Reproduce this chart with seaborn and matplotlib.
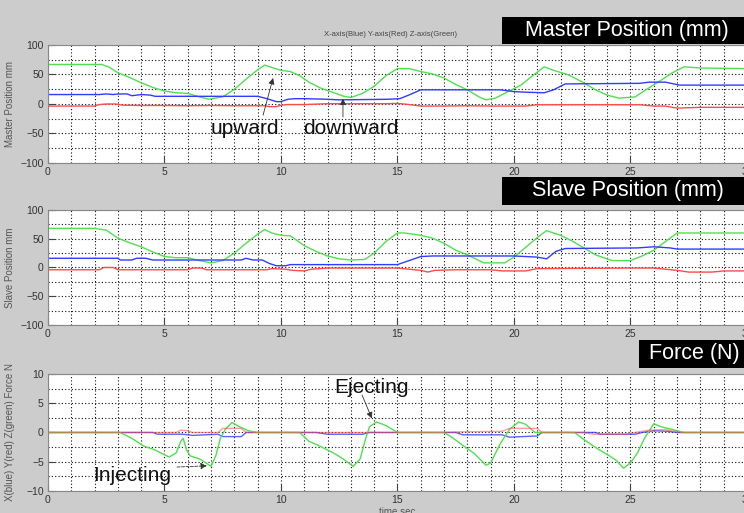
"""
Master / slave position and force traces, teleoperated injection run.
"""
import matplotlib
matplotlib.use("Agg")
import matplotlib.pyplot as plt
from matplotlib.patches import Rectangle
from matplotlib.ticker import MultipleLocator
import pandas as pd
import seaborn as sns

# --- Master position (mm), breakpoints ---
master_x_t = [0, 2.2, 2.5, 2.8, 3.0, 3.4, 3.6, 4.0, 4.4, 4.6, 9.0, 9.4, 9.8, 10.0, 10.3, 10.6, 11.0,
              12.0, 12.5, 14.6, 15.1, 15.6, 16.0, 19.4, 20.0, 20.5, 21.3, 21.7, 22.2, 25.4, 25.8, 26.5,
              27.1, 30]
master_x = [16, 16, 17, 16, 17, 17, 14, 16, 15, 13, 13, 9, 4, 4, 8, 9, 9,
            8, 7, 8, 9, 17, 24, 24, 21, 20, 19, 24, 34, 35, 37, 37,
            32, 32]
master_y_t = [0, 2.0, 2.2, 2.5, 2.9, 3.2, 4.0, 5.0, 6.0, 7.0, 8.0, 9.3, 9.5, 9.8, 10.0, 10.3,
              11.0, 12.0, 13.0, 14.5, 15.0, 15.4, 16.0, 17.0, 18.0, 19.0, 20.0, 20.5, 21.0, 25.4,
              26.0, 26.5, 27.0, 28.0, 30]
master_y = [-3.5, -3.5, -1, 0, 0, -2, -2.5, -2.5, -3, -2.5, -3, -3, -4.5, -4.5, -2, -1,
            -1, 0.5, 0.5, 0.5, 1, -0.5, -3.5, -3.5, -3, -3.5, -3.5, -3.5, -1.3, -1.3,
            -3.5, -3.5, -7, -5.7, -5.7]
master_z_t = [0, 2.3, 2.6, 3.0, 3.5, 4.0, 4.5, 5.0, 5.5, 6.0, 6.5, 6.9, 7.5, 8.0, 8.5, 9.0, 9.3,
              9.6, 10.0, 10.4, 10.8, 11.2, 11.7, 12.2, 12.7, 13.0, 13.5, 14.0, 14.5, 15.0, 15.5,
              16.0, 16.5, 17.0, 17.5, 18.0, 18.5, 18.8, 19.2, 19.7, 20.3, 20.8, 21.3, 21.7, 22.3,
              22.9, 23.5, 24.0, 24.5, 25.2, 25.7, 26.3, 26.8, 27.3, 28.0, 30]
master_z = [67, 67, 63, 53, 45, 36, 28, 22, 19, 18, 12, 8, 12, 25, 42, 58, 66,
            62, 57, 55, 48, 37, 27, 20, 13, 11, 18, 30, 48, 60, 60,
            55, 51, 44, 33, 24, 12, 7, 10, 20, 32, 48, 63, 57, 50,
            38, 24, 15, 10, 12, 25, 40, 53, 63, 61, 60]

# --- Slave position (mm) ---
slave_x_t = [0, 3.0, 3.1, 3.6, 3.8, 4.2, 4.5, 8.3, 8.5, 8.8, 9.2, 9.5, 9.8, 10.2, 10.4, 15.0, 15.5,
             16.0, 16.5, 20.0, 21.0, 21.4, 21.8, 22.2, 25.3, 26.0, 26.7, 27.0, 30]
slave_x = [16, 16, 13, 13, 16, 16, 13, 13, 16, 13, 13, 7, 3, 3, 5, 5, 12,
           19, 20, 20, 18, 15, 28, 33, 34, 36, 34, 32, 32]
slave_y_t = [0, 2.2, 2.4, 2.8, 3.0, 6.0, 6.2, 6.6, 6.8, 9.4, 9.6, 10.2, 10.5, 11.0, 11.3, 12.0,
             15.0, 15.5, 16.0, 16.3, 16.6, 17.5, 19.0, 19.5, 20.5, 21.0, 25.0, 26.0, 26.5, 27.0,
             27.5, 28.5, 29.0, 30]
slave_y = [-4, -4, 0, 0, -4, -4, -1, -1, -4, -4, -2, -3, -5, -6, -3, -1,
           -1, -3, -5, -8, -5, -4, -4, -6, -6, -2, -1, -1, -3, -5,
           -8, -8, -6, -6]
slave_z_t = [0, 2.0, 2.5, 3.0, 3.5, 4.0, 4.5, 5.0, 5.5, 6.0, 6.5, 7.0, 7.5, 8.0, 8.5, 9.0, 9.3,
             9.6, 10.0, 10.4, 11.0, 11.5, 12.0, 12.5, 13.0, 13.6, 14.0, 14.5, 15.0, 15.3, 16.0,
             16.5, 17.0, 17.5, 18.0, 18.5, 18.7, 19.6, 20.0, 20.5, 21.0, 21.4, 22.0, 22.5, 23.0,
             23.5, 24.2, 25.0, 25.5, 26.0, 26.5, 27.0, 30]
slave_z = [68, 68, 65, 51, 43, 36, 27, 19, 17, 17, 12, 8, 12, 25, 42, 58, 66,
           60, 56, 55, 38, 28, 20, 15, 13, 14, 25, 45, 60, 60, 56,
           51, 42, 30, 22, 12, 8, 8, 18, 35, 52, 64, 56, 46, 34,
           22, 12, 12, 20, 30, 45, 60, 60]

# --- Force (N) ---
force_x_t = [0, 4.5, 4.7, 5.8, 6.2, 7.3, 7.5, 8.3, 8.5, 11.5, 12.0, 13.5, 13.8, 17.5, 17.8, 19.5,
             19.8, 21.0, 21.2, 23.5, 23.7, 25.2, 25.5, 26.0, 26.6, 27.0, 30]
force_x = [0, 0, -0.3, -0.3, -0.5, -0.3, -0.7, -0.7, 0, 0, -0.3, -0.3, 0, 0, -0.4, -0.4,
           -0.8, -0.6, 0, 0, -0.3, -0.3, 0, 0.3, 0.2, 0, 0]
force_y_t = [0, 5.5, 5.7, 6.0, 6.2, 7.3, 7.5, 8.3, 8.5, 17.0, 17.5, 19.5, 19.8, 21.0, 21.2, 23.0,
             23.4, 24.8, 25.2, 25.8, 26.5, 27.0, 27.2, 30]
force_y = [0, 0, 0.4, 0.3, 0, 0, 0.7, 0.7, 0, 0, 0.1, 0.2, 0.7, 0.7, 0, 0,
           -0.3, -0.3, 0, 0.4, 0.5, 0.1, 0, 0]
force_z_t = [0, 3.1, 3.6, 4.1, 4.6, 5.2, 5.5, 5.7, 5.8, 5.95, 6.1, 6.5, 6.7, 7.0, 7.2, 7.4, 7.6,
             7.9, 8.2, 8.6, 9.0, 10.8, 11.2, 11.6, 12.0, 12.3, 12.7, 13.1, 13.4, 13.6, 13.8, 14.1,
             14.5, 15.0, 17.0, 17.4, 17.8, 18.3, 18.8, 19.0, 19.4, 19.8, 20.2, 20.5, 20.9, 22.6,
             23.0, 23.4, 23.8, 24.1, 24.4, 24.7, 25.0, 25.3, 25.6, 26.0, 26.3, 26.8, 27.3, 30]
force_z = [0, 0, -1, -2.3, -3, -4.2, -3.5, -1.5, -1, -3, -4, -4.5, -5, -5.8, -4, -1, 0.5,
           1.7, 1, 0.3, 0, 0, -1.5, -2.2, -3, -3.6, -4.6, -5.8, -4.5, -1.5, 1, 1.8,
           1.2, 0, 0, -1, -2.2, -3.6, -5.6, -5.2, -2, 0.5, 1.8, 1.4, 0, 0,
           -1.2, -2.3, -3.3, -4, -4.8, -6.1, -5.2, -3.5, -1, 1.5, 1, 0.5, 0, 0]

BLUE, RED, GREEN = "#2f3cff", "#ff4a4a", "#4fe04f"
BG = "#cccccc"

sns.set_theme(style="white")
plt.rcParams["font.family"] = ["Liberation Sans", "DejaVu Sans"]


def draw_traces(ax, traces):
    # each trace: (times, values, colour, alpha)
    for t, v, color, alpha in traces:
        df = pd.DataFrame({"t": t, "v": v})
        sns.lineplot(data=df, x="t", y="v", ax=ax, color=color, alpha=alpha,
                     linewidth=1.0, estimator=None, sort=False)


def style_axis(ax, ylim, ymajor, yminor, ylabel):
    ax.set_xlim(0, 30)
    ax.set_ylim(*ylim)
    ax.set_facecolor("white")
    ax.xaxis.set_major_locator(MultipleLocator(5))
    ax.xaxis.set_minor_locator(MultipleLocator(1))
    ax.yaxis.set_major_locator(MultipleLocator(ymajor))
    ax.yaxis.set_minor_locator(MultipleLocator(yminor))
    ax.set_axisbelow(True)
    ax.grid(True, which="both", color="#111111", linestyle=(0, (1, 2.0)), linewidth=0.8)
    ax.tick_params(which="major", direction="in", length=5, width=0.8, color="#444444",
                   labelsize=7.5, labelcolor="#333333", pad=3, left=True, bottom=True)
    ax.tick_params(which="minor", length=0)
    ax.set_xlabel("")
    ax.set_ylabel(ylabel, fontsize=7, color="#555555")
    ax.yaxis.set_label_coords(-0.047, 0.5)
    for s in ax.spines.values():
        s.set_color("#888888")
        s.set_linewidth(0.8)


def title_box(fig, x0, y0, w, h, text, xc):
    fig.add_artist(Rectangle((x0, y0), w, h, transform=fig.transFigure,
                             facecolor="black", edgecolor="none"))
    fig.text(xc, y0 + h / 2, text, color="white", fontsize=15.5,
             ha="center", va="center")


fig = plt.figure(figsize=(7.44, 5.13), dpi=100, facecolor=BG)
ax1 = fig.add_axes([0.0645, 0.6823, 0.9395, 0.2300])
ax2 = fig.add_axes([0.0645, 0.3665, 0.9395, 0.2242])
ax3 = fig.add_axes([0.0645, 0.0429, 0.9395, 0.2281])

draw_traces(ax1, [(master_z_t, master_z, GREEN, 1.0), (master_x_t, master_x, BLUE, 1.0),
                  (master_y_t, master_y, RED, 1.0)])
draw_traces(ax2, [(slave_z_t, slave_z, GREEN, 1.0), (slave_x_t, slave_x, BLUE, 1.0),
                  (slave_y_t, slave_y, RED, 1.0)])
draw_traces(ax3, [(force_x_t, force_x, BLUE, 0.8), (force_z_t, force_z, GREEN, 1.0),
                  (force_y_t, force_y, RED, 0.55)])

style_axis(ax1, (-100, 100), 50, 25, "Master Position mm")
style_axis(ax2, (-100, 100), 50, 25, "Slave Position mm")
style_axis(ax3, (-10, 10), 5, 2.5, "X(blue) Y(red) Z(green) Force N")
ax3.set_xlabel("time sec", fontsize=7, color="#555555", labelpad=1)

# annotations
arrow = dict(arrowstyle="-|>", color="#333333", lw=0.6, mutation_scale=9,
             shrinkA=0, shrinkB=0)
ax1.annotate("", xy=(9.66, 44), xytext=(9.23, -19), arrowprops=arrow)
ax1.annotate("", xy=(12.66, 9), xytext=(12.66, -22), arrowprops=arrow)
ax1.text(8.45, -41, "upward", fontsize=15, ha="center", va="center", color="#111111")
ax1.text(13.0, -41, "downward", fontsize=15, ha="center", va="center", color="#111111")

ax3.annotate("", xy=(13.9, 2.4), xytext=(13.48, 6.4), arrowprops=arrow)
ax3.annotate("", xy=(6.82, -5.7), xytext=(5.54, -5.9),
             arrowprops=dict(arrow, linestyle="--"))
ax3.text(13.9, 7.7, "Ejecting", fontsize=15, ha="center", va="center", color="#111111")
ax3.text(3.6, -7.3, "Injecting", fontsize=15, ha="center", va="center", color="#111111")

# title boxes and channel legend
title_box(fig, 0.675, 0.9142, 0.33, 0.0526, "Master Position (mm)", 0.843)
title_box(fig, 0.675, 0.6004, 0.33, 0.0546, "Slave Position (mm)", 0.844)
title_box(fig, 0.859, 0.2827, 0.15, 0.0546, "Force (N)", 0.933)
fig.text(0.5255, 0.932, "X-axis(Blue) Y-axis(Red) Z-axis(Green)", fontsize=5.5,
         color="#444444", ha="center", va="center")

fig.savefig("out.png", dpi=100, facecolor=fig.get_facecolor())
